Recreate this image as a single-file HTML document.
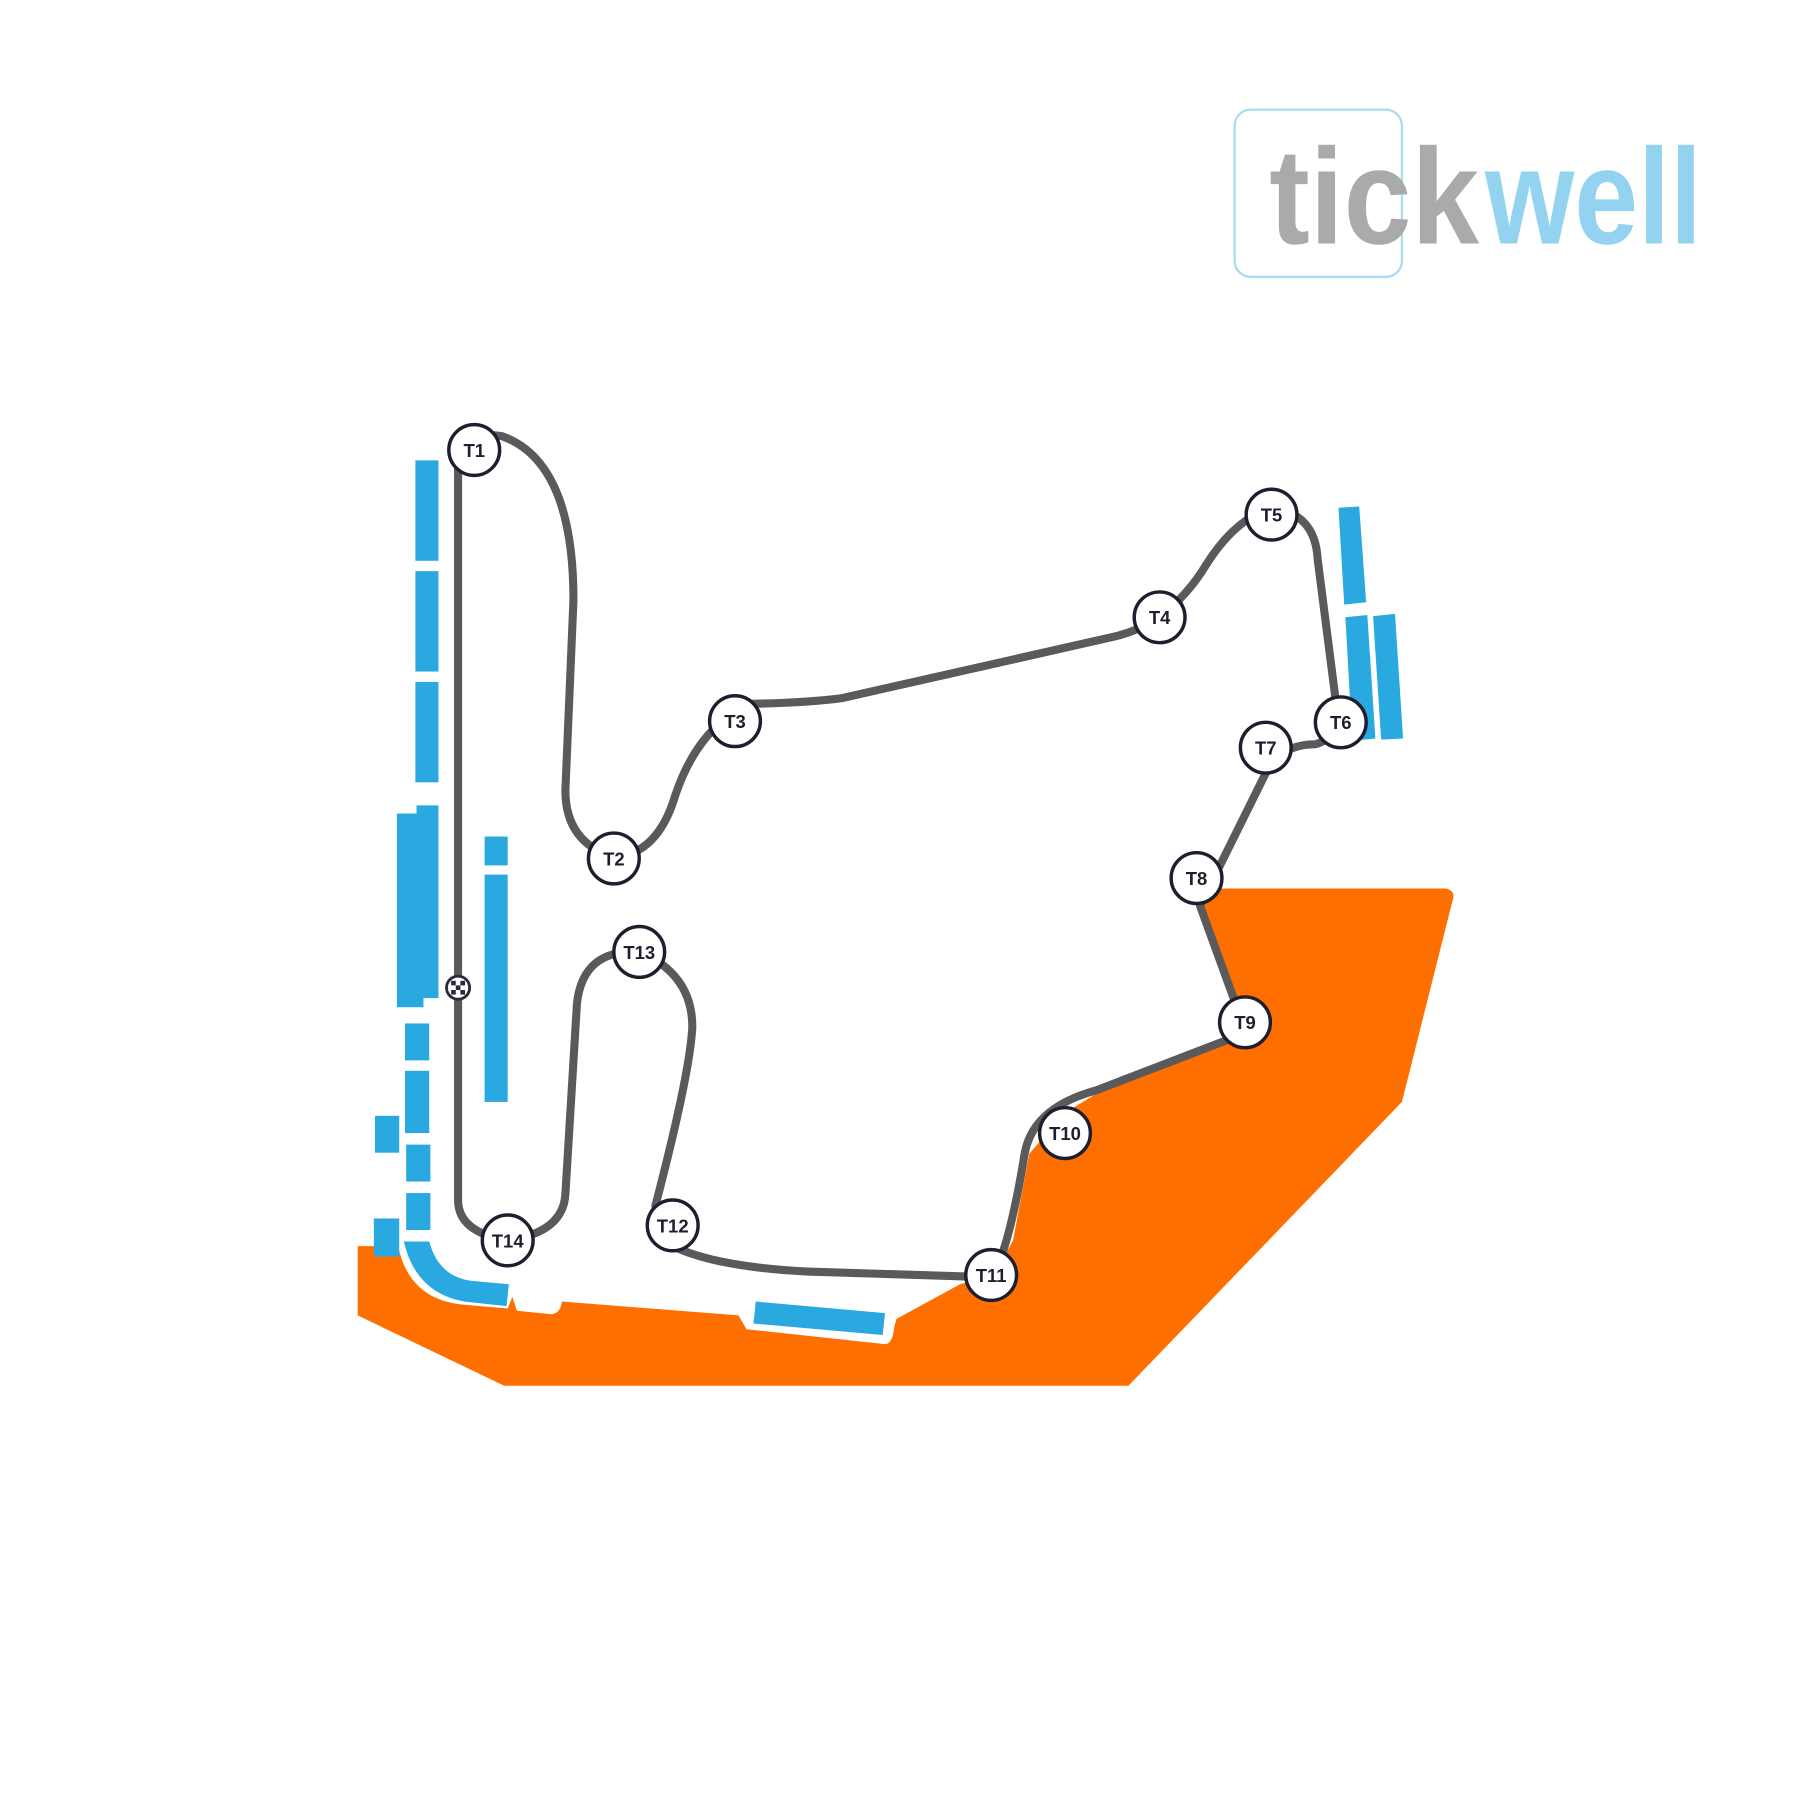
<!DOCTYPE html>
<html><head><style>html,body{margin:0;padding:0;background:#fff}svg{display:block}</style></head>
<body>
<svg width="1800" height="1800" viewBox="0 0 1560 1560" xmlns="http://www.w3.org/2000/svg">
<rect width="1560" height="1560" fill="#fff"/>
<!-- logo -->
<rect x="1070" y="95" width="145" height="145" rx="14" fill="none" stroke="#a8dcf0" stroke-width="2"/>
<text x="1100" y="211" font-family="Liberation Sans, sans-serif" font-weight="bold" font-size="118" fill="#aaaaaa" textLength="182" lengthAdjust="spacingAndGlyphs">tick</text>
<text x="1287" y="211" font-family="Liberation Sans, sans-serif" font-weight="bold" font-size="118" fill="#93d3ef" textLength="188" lengthAdjust="spacingAndGlyphs">well</text>
<!-- orange area -->
<path d="M310,1080 L345,1080 Q355,1128 405,1131 L440,1134 L444,1124 L448,1136 L478,1139 Q486,1138 487,1128 L640,1140 L647,1152 L768,1165 Q774,1163 775,1150 L777,1143 L832,1113 L862,1105 L878,1075 L892,1000 L922,965 L955,945 L1078,893 L1040,785 L1055,770 L1253,770 Q1262,772 1259,780 L1215,955 L978,1201 L437,1201 L310,1140 Z" fill="#ff6f00"/>
<!-- blue stands -->
<g fill="#29a9e0">
<rect x="360" y="399" width="20" height="87"/>
<rect x="360" y="495" width="20" height="87"/>
<rect x="360" y="591" width="20" height="87"/>
<path d="M344,705 L361,705 L361,698 L380,698 L380,865 L367,865 L367,873 L344,873 Z"/>
<rect x="420" y="725" width="20" height="25"/>
<rect x="420" y="758" width="20" height="197"/>
<rect x="351" y="887" width="21" height="32"/>
<rect x="351" y="928" width="21" height="54"/>
<rect x="352" y="992" width="21" height="32"/>
<rect x="352" y="1034" width="21" height="32"/>
<rect x="325" y="967" width="21" height="32"/>
<rect x="324" y="1056" width="22" height="33"/>
<path d="M350,1076 L372,1076 Q380,1106 408,1110 L441,1113 L439,1132 L402,1128 Q360,1120 350,1076 Z"/>
<path d="M655,1128 L767,1138 L765,1157 L653,1147 Z"/>
<path d="M1160,440 L1178,439 L1184,522 L1165,524 Z"/>
<path d="M1166,535 L1185,533 L1192,640 L1172,642 Z"/>
<path d="M1190,534 L1209,532 L1216,640 L1197,641 Z"/>
</g>
<!-- track -->
<path d="M397,395 L397,1040 Q397,1068 440,1075 Q488,1068 490,1035 L500,870 Q505,822 555,825 Q600,845 600,890 Q598,930 568,1045 Q570,1072 583,1080 Q620,1098 700,1102 L860,1107 Q875,1080 888,1000 Q895,960 950,945 L1080,895 L1040,785 L1097,670 Q1110,645 1140,645 Q1160,640 1158,610 L1142,485 Q1140,445 1102,440 Q1070,450 1045,490 Q1030,515 1005,535 Q985,548 960,553 L730,605 Q700,609 650,610 Q605,630 585,690 Q570,740 532,743 Q490,730 490,685 L497,520 Q497,400 435,378 Q397,372 397,395" fill="none" stroke="#5a5a5a" stroke-width="7" stroke-linejoin="round"/>
<!-- checkered flag -->
<circle cx="397" cy="856" r="10" fill="#fff" stroke="#2a2a3e" stroke-width="2.5"/>
<g fill="#2a2a3e"><rect x="391" y="850" width="4" height="4"/><rect x="399" y="850" width="4" height="4"/><rect x="395" y="854" width="4" height="4"/><rect x="391" y="858" width="4" height="4"/><rect x="399" y="858" width="4" height="4"/></g>
<!-- turn markers -->
<g font-family="Liberation Sans, sans-serif" font-size="16" font-weight="bold" fill="#1e1e2e" text-anchor="middle">
<g stroke="#1e1e2e" stroke-width="3" fill="#fff">
<circle cx="411" cy="390" r="22"/><circle cx="532" cy="744" r="22"/><circle cx="637" cy="625" r="22"/>
<circle cx="1005" cy="535" r="22"/><circle cx="1102" cy="446" r="22"/><circle cx="1162" cy="626" r="22"/>
<circle cx="1097" cy="648" r="22"/><circle cx="1037" cy="761" r="22"/><circle cx="1079" cy="886" r="22"/>
<circle cx="923" cy="982" r="22"/><circle cx="859" cy="1105" r="22"/><circle cx="583" cy="1062" r="22"/>
<circle cx="554" cy="825" r="22"/><circle cx="440" cy="1075" r="22"/>
</g>
<text x="411" y="396">T1</text><text x="532" y="750">T2</text><text x="637" y="631">T3</text>
<text x="1005" y="541">T4</text><text x="1102" y="452">T5</text><text x="1162" y="632">T6</text>
<text x="1097" y="654">T7</text><text x="1037" y="767">T8</text><text x="1079" y="892">T9</text>
<text x="923" y="988">T10</text><text x="859" y="1111">T11</text><text x="583" y="1068">T12</text>
<text x="554" y="831">T13</text><text x="440" y="1081">T14</text>
</g>
</svg>
</body></html>
